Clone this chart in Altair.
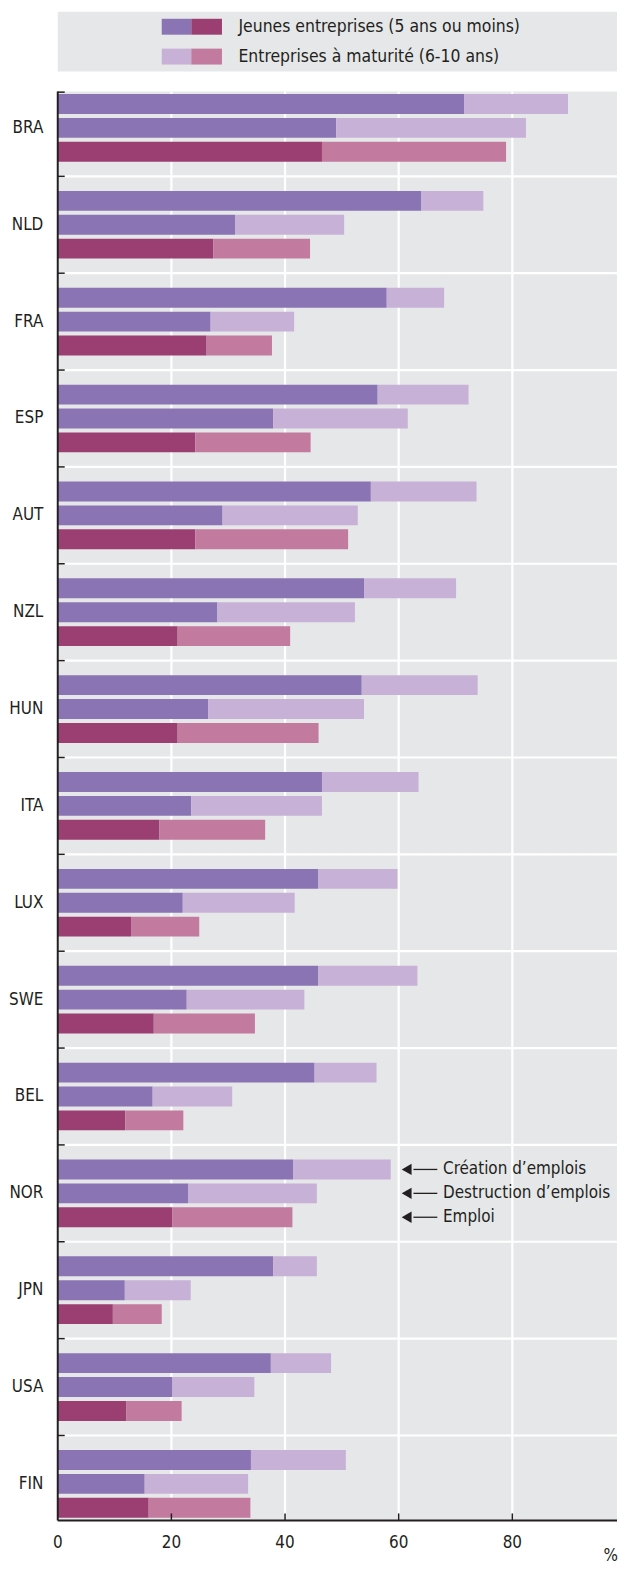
import altair as alt
import pandas as pd

# ---------------- data ----------------
countries = ["BRA", "NLD", "FRA", "ESP", "AUT", "NZL", "HUN", "ITA",
             "LUX", "SWE", "BEL", "NOR", "JPN", "USA", "FIN"]
measures = ["Création d’emplois", "Destruction d’emplois", "Emploi"]

young_creation = [71.5, 64.0, 57.9, 56.3, 55.1, 53.9, 53.5, 46.5, 45.8, 45.8, 45.2, 41.4, 37.9, 37.5, 34.0]
mature_creation = [18.3, 10.9, 10.1, 16.0, 18.6, 16.2, 20.4, 17.0, 14.0, 17.5, 10.9, 17.2, 7.7, 10.6, 16.7]
young_destruction = [49.0, 31.2, 26.9, 37.9, 29.0, 28.1, 26.5, 23.5, 22.0, 22.7, 16.7, 23.0, 11.8, 20.2, 15.3]
mature_destruction = [33.4, 19.2, 14.7, 23.7, 23.8, 24.2, 27.4, 23.0, 19.7, 20.7, 14.0, 22.6, 11.6, 14.4, 18.2]
young_emploi = [46.5, 27.4, 26.2, 24.2, 24.2, 21.1, 21.1, 17.9, 12.9, 16.9, 11.9, 20.2, 9.7, 12.1, 16.0]
mature_emploi = [32.4, 17.0, 11.5, 20.3, 26.9, 19.8, 24.8, 18.6, 12.0, 17.8, 10.2, 21.1, 8.6, 9.7, 17.9]

legend_labels = ["Jeunes entreprises (5 ans ou moins)", "Entreprises à maturité (6-10 ans)"]
x_ticks = [0, 20, 40, 60, 80]
x_tick_labels = ["0", "20", "40", "60", "80"]
unit_label = "%"
annotated_country = "NOR"

# ---------------- styles ----------------
FONT = "Liberation Sans Narrow, Arial Narrow, DejaVu Sans Condensed, sans-serif"
TXT = "#231F20"
BG = "#E6E7E9"
color_keys = ["flux-young", "flux-mature", "emp-young", "emp-mature"]
color_vals = ["#8A74B3", "#C8B1D6", "#9B3F72", "#C27A9F"]
W, H = 562, 1436          # visible plot area (kept inside the page width)
XR = 571                  # pixel length of 0..100

# ---------------- tables ----------------
rows = []
series = [
    (measures[0], young_creation, mature_creation),
    (measures[1], young_destruction, mature_destruction),
    (measures[2], young_emploi, mature_emploi),
]
for i, c in enumerate(countries):
    for m, yv, mv in series:
        grp = "emp" if m == "Emploi" else "flux"
        rows.append(dict(country=c, measure=m, age_order=0, key=grp + "-young", value=yv[i]))
        rows.append(dict(country=c, measure=m, age_order=1, key=grp + "-mature", value=mv[i]))
df = pd.DataFrame(rows)
ticks_df = pd.DataFrame({"t": x_ticks, "lab": x_tick_labels})

xscale = alt.Scale(domain=[0, 100], nice=False, zero=True, range=[0, XR])
yscale = alt.Scale(domain=countries, range=[-12, H + 12], paddingInner=0, paddingOuter=0)
yoff_scale = alt.Scale(domain=measures, paddingInner=0.167, paddingOuter=0.61)
cscale = alt.Scale(domain=color_keys, range=color_vals)

yaxis = alt.Axis(title=None, domain=False, ticks=False, grid=False, labelFont=FONT,
                 labelFontSize=17, labelColor=TXT, labelPadding=15)


def X(field):
    return alt.X(field, scale=xscale, axis=None)


def Y(**kw):
    return alt.Y("country:N", scale=yscale, sort=countries, axis=yaxis, **kw)


def YO():
    return alt.YOffset("measure:N", scale=yoff_scale, sort=measures)


# white grid lines
hgrid = alt.Chart(pd.DataFrame({"country": countries[1:]})).mark_rule(
    color="white", strokeWidth=2.2
).encode(y=Y(bandPosition=0))
vgrid = alt.Chart(ticks_df).mark_rule(color="white", strokeWidth=2.2).encode(x=X("t:Q"))

bars = alt.Chart(df).transform_stack(
    stack="value", as_=["x0", "x1"], groupby=["country", "measure"],
    sort=[alt.SortField("age_order")]
).mark_bar().encode(
    x=X("x0:Q"),
    x2="x1:Q",
    y=Y(),
    yOffset=YO(),
    color=alt.Color("key:N", scale=cscale, legend=None),
)

# axis lines
left_line = alt.Chart(pd.DataFrame({"t": [0]})).mark_rule(color=TXT, strokeWidth=2).encode(
    x=X("t:Q")
)
bottom_line = alt.Chart(pd.DataFrame({"t": [0]})).mark_rule(color=TXT, strokeWidth=2).encode(
    y=alt.value(H)
)

# inward ticks on y axis at band boundaries
ytick = alt.Chart(pd.DataFrame({"country": countries[1:]})).mark_rule(
    color=TXT, strokeWidth=1.5
).encode(y=Y(bandPosition=0), x=alt.value(0), x2=alt.value(7))
ytick_top = alt.Chart(pd.DataFrame({"t": [0]})).mark_rule(color=TXT, strokeWidth=1.5).encode(
    y=alt.value(0.75), x=alt.value(0), x2=alt.value(7)
)

# inward ticks and labels on x axis
xtick = alt.Chart(ticks_df[ticks_df.t > 0]).mark_rule(color=TXT, strokeWidth=1.5).encode(
    x=X("t:Q"), y=alt.value(H - 7), y2=alt.value(H)
)
xlabels = alt.Chart(ticks_df).mark_text(font=FONT, fontSize=17, color=TXT,
                                        align="center", baseline="middle").encode(
    x=X("t:Q"), y=alt.value(H + 23), text="lab:N"
)
unit = alt.Chart(pd.DataFrame({"t": [97.3], "lab": [unit_label]})).mark_text(
    font=FONT, fontSize=17, color=TXT, align="center", baseline="middle"
).encode(x=X("t:Q"), y=alt.value(H + 36), text="lab:N")

# annotations next to NOR
ann = pd.DataFrame({"country": [annotated_country] * 3, "measure": measures,
                    "head": [61.4] * 3, "l0": [62.6] * 3, "l1": [66.8] * 3, "tx": [67.8] * 3})
ann_line = alt.Chart(ann).mark_rule(color=TXT, strokeWidth=1.3).encode(
    x=X("l0:Q"), x2="l1:Q", y=Y(), yOffset=YO(),
)
ann_head = alt.Chart(ann).mark_point(shape="triangle-left", filled=True, size=130,
                                     color=TXT, opacity=1).encode(
    x=X("head:Q"), y=Y(), yOffset=YO(),
)
ann_text = alt.Chart(ann).mark_text(align="left", baseline="middle", font=FONT,
                                    fontSize=17, color=TXT).encode(
    x=X("tx:Q"), y=Y(), yOffset=YO(), text="measure:N",
)

main = alt.layer(hgrid, vgrid, bars, left_line, bottom_line, ytick, ytick_top, xtick,
                 xlabels, unit, ann_line, ann_head, ann_text).properties(width=W, height=H)

# ---------------- custom legend ----------------
leg_rows = []
swatch_x = [18.3, 23.5, 28.9]
leg_keys = [["flux-young", "emp-young"], ["flux-mature", "emp-mature"]]
for r, lab in enumerate(legend_labels):
    for k in range(2):
        leg_rows.append(dict(label=lab, x0=swatch_x[k], x1=swatch_x[k + 1], key=leg_keys[r][k]))
leg_df = pd.DataFrame(leg_rows)
leg_xs = alt.Scale(domain=[0, 100], nice=False, range=[0, XR])
leg_y = alt.Scale(domain=legend_labels, paddingInner=0, paddingOuter=0)

leg_bars = alt.Chart(leg_df).mark_bar(size=16).encode(
    x=alt.X("x0:Q", scale=leg_xs, axis=None),
    x2="x1:Q",
    y=alt.Y("label:N", scale=leg_y, sort=legend_labels, axis=None),
    color=alt.Color("key:N", scale=cscale, legend=None),
)
leg_text = alt.Chart(pd.DataFrame({"label": legend_labels, "tx": [31.8, 31.8]})).mark_text(
    align="left", baseline="middle", font=FONT, fontSize=17.5, color=TXT
).encode(
    x=alt.X("tx:Q", scale=leg_xs, axis=None),
    y=alt.Y("label:N", scale=leg_y, sort=legend_labels, axis=None),
    text="label:N",
)
legend = alt.layer(leg_bars, leg_text).properties(width=W, height=60)

chart = alt.vconcat(legend, main, spacing=18).resolve_scale(
    x="independent", y="independent", color="independent"
).properties(
    padding={"left": 0, "top": 0, "right": 0, "bottom": 0}
).configure_view(fill=BG, stroke=None)

chart.save("out.html", embed_options={"renderer": "svg", "actions": False})
